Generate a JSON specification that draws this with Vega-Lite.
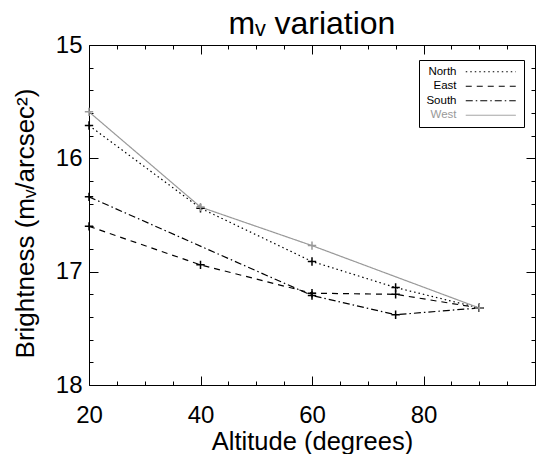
{
  "$schema": "https://vega.github.io/schema/vega-lite/v6.json",
  "width": 446,
  "height": 340,
  "autosize": "none",
  "padding": {"left": 89, "top": 45, "right": 5, "bottom": 69},
  "background": "white",
  "config": {
    "font": "Liberation Sans",
    "view": {"stroke": "black", "strokeWidth": 1},
    "axis": {"grid": false, "domain": false, "tickColor": "black", "tickWidth": 1, "labelColor": "black", "titleColor": "black", "labelFont": "Liberation Sans", "titleFont": "Liberation Sans", "titleFontWeight": "normal", "labelFlush": false, "labelOverlap": false}
  },
  "title": {"text": "mᵥ variation", "fontSize": 32, "fontWeight": "normal", "font": "Liberation Sans", "anchor": "middle", "offset": -8, "color": "black"},
  "data": {
    "values": [
      {"dir": "North", "alt": 20, "mag": 15.71},
      {"dir": "North", "alt": 40, "mag": 16.44},
      {"dir": "North", "alt": 60, "mag": 16.91},
      {"dir": "North", "alt": 75, "mag": 17.14},
      {"dir": "North", "alt": 90, "mag": 17.32},
      {"dir": "East", "alt": 20, "mag": 16.6},
      {"dir": "East", "alt": 40, "mag": 16.94},
      {"dir": "East", "alt": 60, "mag": 17.19},
      {"dir": "East", "alt": 75, "mag": 17.2},
      {"dir": "East", "alt": 90, "mag": 17.32},
      {"dir": "South", "alt": 20, "mag": 16.34},
      {"dir": "South", "alt": 60, "mag": 17.21},
      {"dir": "South", "alt": 75, "mag": 17.38},
      {"dir": "South", "alt": 90, "mag": 17.32},
      {"dir": "West", "alt": 20, "mag": 15.59},
      {"dir": "West", "alt": 40, "mag": 16.43},
      {"dir": "West", "alt": 60, "mag": 16.77},
      {"dir": "West", "alt": 90, "mag": 17.32}
    ]
  },
  "encoding": {
    "x": {"field": "alt", "type": "quantitative", "scale": {"domain": [20, 100], "nice": false, "zero": false}},
    "y": {"field": "mag", "type": "quantitative", "scale": {"domain": [18, 15], "nice": false, "zero": false}}
  },
  "layer": [
    {
      "mark": {"type": "line", "strokeWidth": 1.2},
      "encoding": {
        "x": {"field": "alt", "type": "quantitative", "axis": {"orient": "bottom", "values": [20, 40, 60, 80, 100], "labelExpr": "datum.value == 100 ? '' : datum.label", "offset": -9, "tickSize": 9, "labelPadding": 18, "labelFontSize": 24, "title": "Altitude (degrees)", "titleFontSize": 25.5, "titlePadding": 2}},
        "y": {"field": "mag", "type": "quantitative", "axis": {"orient": "left", "values": [15, 16, 17, 18], "offset": -9, "tickSize": 9, "labelPadding": 7, "labelFontSize": 24, "title": "Brightness (mᵥ/arcsec²)", "titleFontSize": 26, "titlePadding": 17, "titleY": 178}},
        "color": {"field": "dir", "type": "nominal", "scale": {"domain": ["North", "East", "South", "West"], "range": ["black", "black", "black", "#999999"]},
          "legend": {"title": null, "orient": "none", "legendX": 330, "legendY": 15, "symbolType": "M-5,0L5,0", "symbolSize": 100, "symbolStrokeWidth": 1, "labelFontSize": 11.5, "labelAlign": "right", "labelOffset": -40, "symbolOffset": 60, "labelFont": "Liberation Sans", "rowPadding": 1.5, "padding": 6, "strokeColor": "black", "fillColor": "white",
            "encode": {"labels": {"update": {"fill": {"signal": "datum.label === 'West' ? '#999999' : 'black'"}}}}}},
        "strokeDash": {"field": "dir", "type": "nominal", "scale": {"domain": ["North", "East", "South", "West"], "range": [[1.5, 3], [6, 5], [7, 3, 1.5, 3], [1, 0]]}, "legend": {"title": null}}
      }
    },
    {
      "mark": {"type": "point", "shape": "M-1,0L1,0M0,-1L0,1", "filled": false, "size": 70, "strokeWidth": 1.5, "opacity": 1},
      "encoding": {
        "x": {"field": "alt", "type": "quantitative", "axis": {"orient": "top", "values": [20, 40, 60, 80, 100], "labels": false, "offset": -9, "tickSize": 9, "title": null}},
        "y": {"field": "mag", "type": "quantitative", "axis": {"orient": "right", "values": [15, 16, 17, 18], "labels": false, "offset": -9, "tickSize": 9, "title": null}},
        "color": {"field": "dir", "type": "nominal", "legend": null}
      }
    },
    {
      "mark": {"type": "point", "opacity": 0},
      "encoding": {
        "x": {"field": "alt", "type": "quantitative", "axis": {"orient": "bottom", "values": [25, 30, 35, 45, 50, 55, 65, 70, 75, 85, 90, 95], "labels": false, "offset": -4, "tickSize": 4, "title": null}},
        "y": {"field": "mag", "type": "quantitative", "axis": {"orient": "left", "values": [15.2, 15.4, 15.6, 15.8, 16.2, 16.4, 16.6, 16.8, 17.2, 17.4, 17.6, 17.8], "labels": false, "offset": -4, "tickSize": 4, "title": null}}
      }
    },
    {
      "mark": {"type": "point", "opacity": 0},
      "encoding": {
        "x": {"field": "alt", "type": "quantitative", "axis": {"orient": "top", "values": [25, 30, 35, 45, 50, 55, 65, 70, 75, 85, 90, 95], "labels": false, "offset": -4, "tickSize": 4, "title": null}},
        "y": {"field": "mag", "type": "quantitative", "axis": {"orient": "right", "values": [15.2, 15.4, 15.6, 15.8, 16.2, 16.4, 16.6, 16.8, 17.2, 17.4, 17.6, 17.8], "labels": false, "offset": -4, "tickSize": 4, "title": null}}
      }
    }
  ],
  "resolve": {"axis": {"x": "independent", "y": "independent"}}
}
